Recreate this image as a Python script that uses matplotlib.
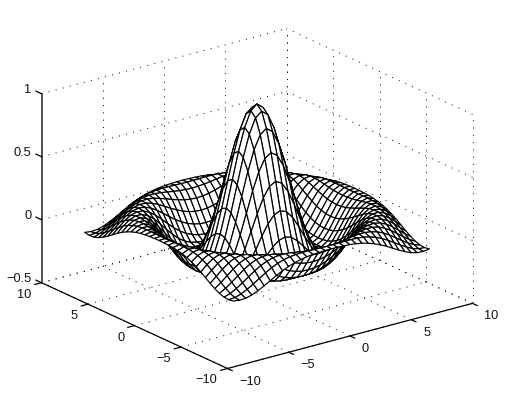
import numpy as np
import matplotlib
matplotlib.use('Agg')
import matplotlib.pyplot as plt
from mpl_toolkits.mplot3d import proj3d

plt.rcParams['font.family'] = ['Liberation Sans', 'DejaVu Sans']

z_rows = [
    [1.0, .959, .841, .665, .455, .239, .047, -.100, -.189, -.217, -.192, -.128, -.047, .033, .094, .125, .124],
    [.919, .804, .632, .428, .219, .033, -.109, -.192, -.217, -.189, -.125, -.043, .036, .096, .126, .123],
    [.699, .540, .352, .161, -.007, -.131, -.202, -.216, -.182, -.114, -.033, .044, .100, .127, .121],
    [.402, .239, .077, -.063, -.162, -.212, -.211, -.167, -.096, -.016, .057, .107, .128, .118],
    [.109, -.019, -.124, -.192, -.217, -.199, -.145, -.071, .007, .073, .115, .128, .112],
    [-.109, -.177, -.213, -.212, -.176, -.114, -.040, .033, .090, .123, .126, .103],
    [-.210, -.216, -.192, -.142, -.075, -.003, .061, .107, .128, .121, .090],
    [-.196, -.155, -.096, -.029, .036, .089, .121, .128, .110, .073],
    [-.104, -.043, .019, .073, .111, .128, .121, .094, .052],
    [.013, .064, .103, .125, .126, .107, .072, .027],
    [.100, .123, .128, .115, .085, .044, -.001],
    [.128, .118, .093, .056, .013, -.029],
    [.095, .062, .022, -.019, -.054],
    [.025, -.013, -.048, -.075],
    [-.046, -.072, -.088],
    [-.087, -.091],
    [-.084],
]
xy_steps = [-8.0 + 0.5 * n for n in range(33)]
x_ticks = [-10, -5, 0, 5, 10]
y_ticks = [-10, -5, 0, 5, 10]
z_ticks = [-0.5, 0, 0.5, 1]
x_labels = ['\u221210', '\u22125', '0', '5', '10']
y_labels = ['\u221210', '\u22125', '0', '5', '10']
z_labels = ['\u22120.5', '0', '0.5', '1']

# mirror the octant out to the full grid
quad = np.zeros((17, 17))
for i, row in enumerate(z_rows):
    for k, v in enumerate(row):
        quad[i, i + k] = v
        quad[i + k, i] = v
idx = np.abs(np.arange(-16, 17))
Z = quad[idx][:, idx]
X, Y = np.meshgrid(xy_steps, xy_steps)

fig = plt.figure(figsize=(5.21, 4.07), dpi=100)
ax = fig.add_subplot(projection='3d', proj_type='ortho', computed_zorder=False)
ax.set_xlim(-10, 10)
ax.set_ylim(-10, 10)
ax.set_zlim(-0.5, 1)
ax.set_box_aspect((1, 1, 0.656))
ax.view_init(elev=20.5, azim=-127.2)
ax.set_axis_off()

# place the box so its corners land where the reference has them
ax.set_position([0, 0, 1, 1])
ax.apply_aspect()
M = ax.get_proj()


def projected(x, y, z):
    px, py, _ = proj3d.proj_transform(x, y, z, M)
    return px, py


p_bottom = ax.transData.transform(projected(-10, -10, -0.5))
p_right = ax.transData.transform(projected(10, -10, -0.5))
side_old = ax.get_window_extent().width
side = side_old * 245.0 / (p_right[0] - p_bottom[0])
u, v = ax.transAxes.inverted().transform(p_bottom)
left = 227.5 - u * side
bottom = (407 - 368.5) - v * side
ax.set_position([left / 521, bottom / 407, side / 521, side / 407])

# dotted grid on floor and the two back walls
dots = dict(color='k', lw=0.7, ls=(0, (1, 6.5)), zorder=1)
for t in x_ticks:
    ax.plot([t, t], [-10, 10], [-0.5, -0.5], **dots)
    ax.plot([t, t], [10, 10], [-0.5, 1], **dots)
for t in y_ticks:
    ax.plot([-10, 10], [t, t], [-0.5, -0.5], **dots)
    ax.plot([10, 10], [t, t], [-0.5, 1], **dots)
for t in z_ticks:
    ax.plot([-10, 10], [10, 10], [t, t], **dots)
    ax.plot([10, 10], [-10, 10], [t, t], **dots)

ax.plot_surface(X, Y, Z, rstride=1, cstride=1, color='white', edgecolor='k',
                linewidth=0.85, shade=False, zorder=2)

# solid axes and ticks
line = dict(color='k', lw=0.9, zorder=3)
ax.plot([-10, 10], [-10, -10], [-0.5, -0.5], **line)
ax.plot([-10, -10], [-10, 10], [-0.5, -0.5], **line)
ax.plot([-10, -10], [10, 10], [-0.5, 1], color='#444444', lw=1.3, zorder=3)


def label(x, y, z, s, ha):
    px, py = projected(x, y, z)
    ax.text2D(px, py, s, transform=ax.transData, ha=ha, va='center',
              fontsize=9.2, color='#111111')


for t, s in zip(x_ticks, x_labels):
    ax.plot([t, t], [-10, -10.5], [-0.5, -0.5], **line)
    label(t, -11.29, -0.56, s, 'left')
for t, s in zip(y_ticks, y_labels):
    ax.plot([-10, -10.55], [t, t], [-0.5, -0.5], **line)
    label(-10.82, t, -0.574, s, 'right')
for t, s in zip(z_ticks, z_labels):
    ax.plot([-10, -10], [10, 10.6], [t, t], **line)
    label(-10, 11.08, t - 0.01, s, 'right')

fig.savefig('out.png', dpi=100)
